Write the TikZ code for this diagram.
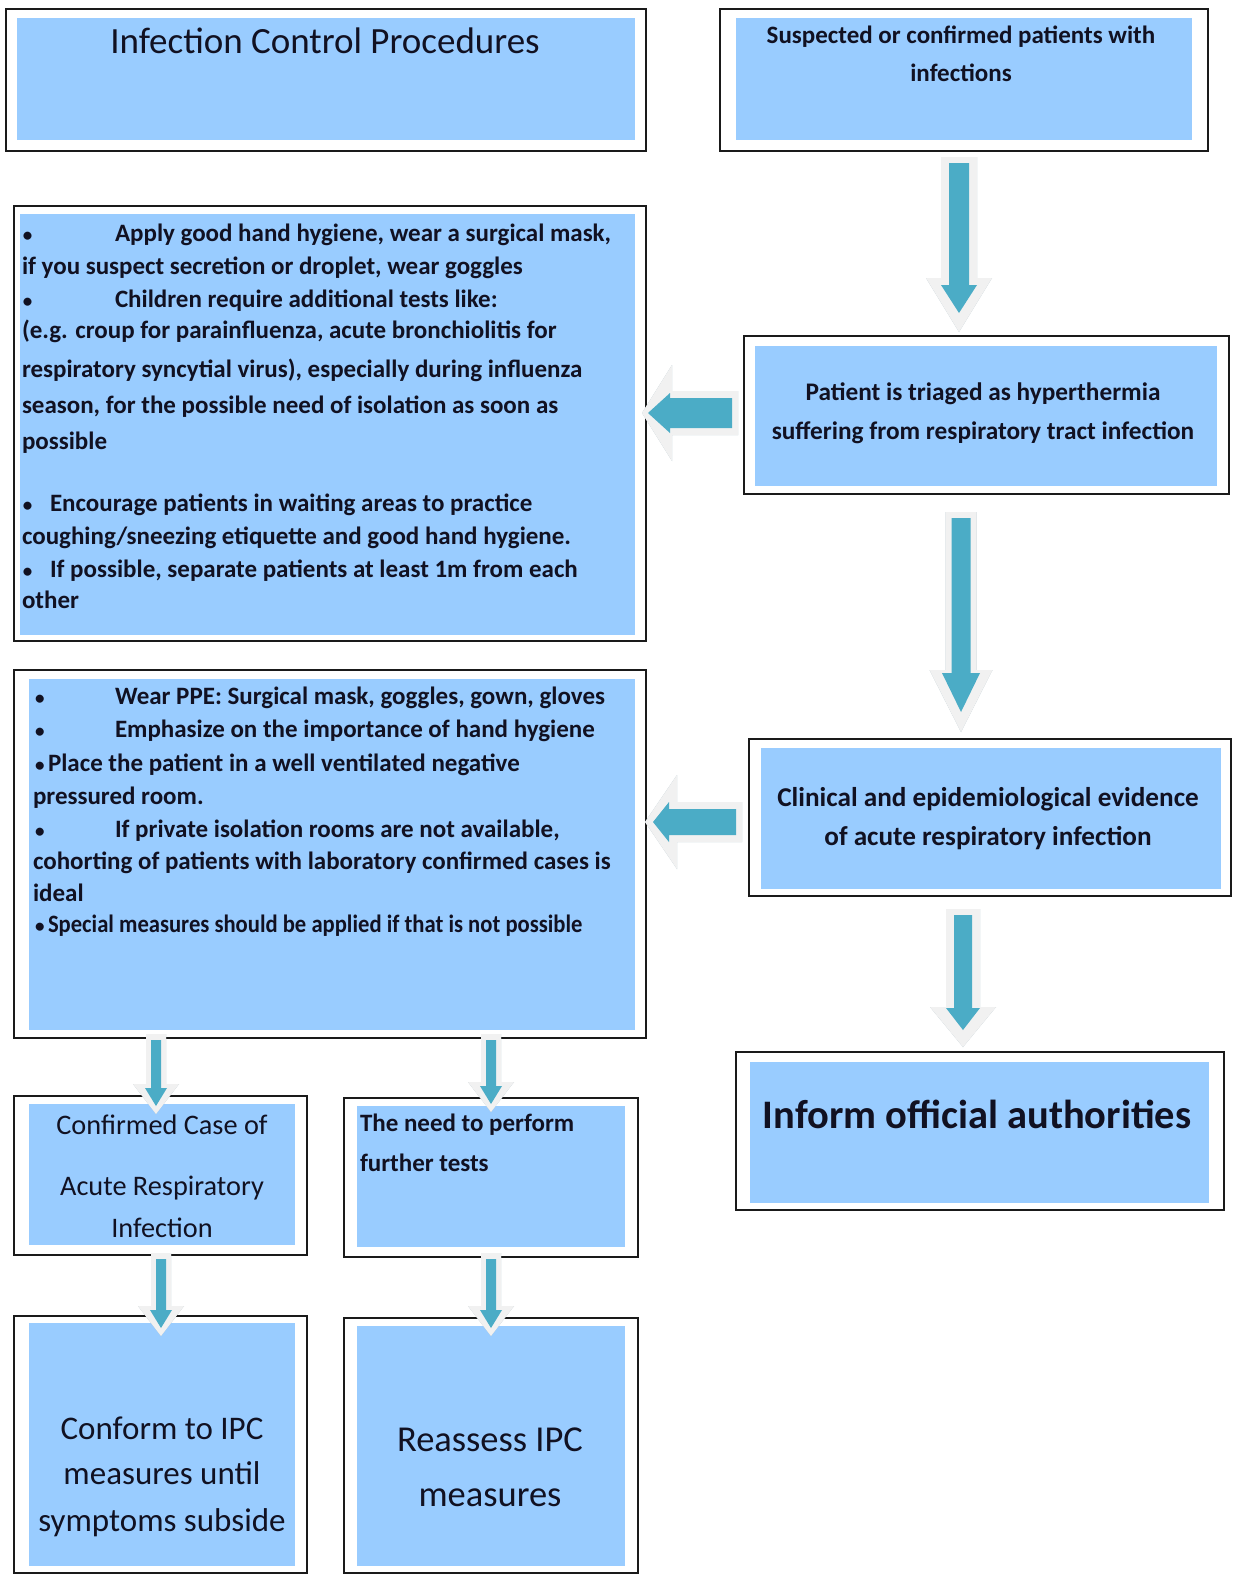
\documentclass[tikz,border=0pt]{standalone}
\usepackage{fontspec}
\setmainfont{Carlito}
\usepackage{graphicx}
\usetikzlibrary{calc}
\definecolor{boxblue}{HTML}{99CCFF}
\definecolor{tealarrow}{HTML}{4BACC6}
\definecolor{arrlight}{HTML}{F1F1F1}
\definecolor{arrshadow}{HTML}{AFC0C8}
\definecolor{framecol}{HTML}{1A1A1A}
\definecolor{txtcol}{HTML}{111122}

\newcommand\fsz[1]{\fontsize{#1}{#1}\selectfont}
\newcommand\smbul{{\fsz{19}•}}

\tikzset{
  frame/.style={draw=framecol, line width=2.2pt, fill=white, inner sep=0pt, outer sep=0pt, anchor=north west},
  fillbox/.style={fill=boxblue, inner sep=0pt, outer sep=0pt, anchor=north west},
  ltxt/.style={inner sep=0pt, outer sep=0pt, anchor=base west, text=txtcol, font=\bfseries\fsz{25}},
  ctxt/.style={inner sep=0pt, outer sep=0pt, anchor=base, text=txtcol},
}

% name, x1, y1, x2, y2, ix1, iy1, ix2, iy2
\newcommand\boxpair[9]{%
  \node[frame, minimum width={#4-#2}, minimum height={#5-#3}] (#1) at (#2,#3) {};
  \node[fillbox, minimum width={#8-#6}, minimum height={#9-#7}] (#1-in) at (#6,#7) {};
}

% down block arrow: 1 start, 2 tip, 3 w, 4 h, 5 L, 6 W, 7 H, 8 L2, 9 E
\newcommand\blkdown[9]{%
  \begin{scope}[xshift=1.5pt,yshift=-2pt]
  \fill[arrshadow] let \p1=(#1), \p2=(#2) in
    (\x1-#6pt,\y1+6pt) -- (\x1-#6pt,\y2-#9pt+#8pt) -- (\x1-#7pt,\y2-#9pt+#8pt) -- (\x1,\y2-#9pt)
    -- (\x1+#7pt,\y2-#9pt+#8pt) -- (\x1+#6pt,\y2-#9pt+#8pt) -- (\x1+#6pt,\y1+6pt) -- cycle;
  \end{scope}
  \fill[arrlight] let \p1=(#1), \p2=(#2) in
    (\x1-#6pt,\y1+6pt) -- (\x1-#6pt,\y2-#9pt+#8pt) -- (\x1-#7pt,\y2-#9pt+#8pt) -- (\x1,\y2-#9pt)
    -- (\x1+#7pt,\y2-#9pt+#8pt) -- (\x1+#6pt,\y2-#9pt+#8pt) -- (\x1+#6pt,\y1+6pt) -- cycle;
  \fill[tealarrow] let \p1=(#1), \p2=(#2) in
    (\x1-#3pt,\y1) -- (\x1-#3pt,\y2+#5pt) -- (\x1-#4pt,\y2+#5pt) -- (\x1,\y2)
    -- (\x1+#4pt,\y2+#5pt) -- (\x1+#3pt,\y2+#5pt) -- (\x1+#3pt,\y1) -- cycle;
}
% left block arrow
\newcommand\blkleft[9]{%
  \begin{scope}[xshift=1.5pt,yshift=-2pt]
  \fill[arrshadow] let \p1=(#1), \p2=(#2) in
    (\x1+6pt,\y1+#6pt) -- (\x2-#9pt+#8pt,\y1+#6pt) -- (\x2-#9pt+#8pt,\y1+#7pt) -- (\x2-#9pt,\y1)
    -- (\x2-#9pt+#8pt,\y1-#7pt) -- (\x2-#9pt+#8pt,\y1-#6pt) -- (\x1+6pt,\y1-#6pt) -- cycle;
  \end{scope}
  \fill[arrlight] let \p1=(#1), \p2=(#2) in
    (\x1+6pt,\y1+#6pt) -- (\x2-#9pt+#8pt,\y1+#6pt) -- (\x2-#9pt+#8pt,\y1+#7pt) -- (\x2-#9pt,\y1)
    -- (\x2-#9pt+#8pt,\y1-#7pt) -- (\x2-#9pt+#8pt,\y1-#6pt) -- (\x1+6pt,\y1-#6pt) -- cycle;
  \fill[tealarrow] let \p1=(#1), \p2=(#2) in
    (\x1,\y1+#3pt) -- (\x2+#5pt,\y1+#3pt) -- (\x2+#5pt,\y1+#4pt) -- (\x2,\y1)
    -- (\x2+#5pt,\y1-#4pt) -- (\x2+#5pt,\y1-#3pt) -- (\x1,\y1-#3pt) -- cycle;
}

\begin{document}
\begin{tikzpicture}[x=1pt,y=-1pt]
\useasboundingbox[fill=white] (0,0) rectangle (1233,1575);

% ---------- boxes ----------
\boxpair{title}{6}{9}{646}{151}{17}{18}{635}{140}
\boxpair{susp}{720}{9}{1208}{151}{736}{18}{1192}{140}
\boxpair{listA}{14}{206}{646}{641}{20}{214}{635}{635}
\boxpair{triage}{744}{336}{1229}{494}{755}{346}{1217}{486}
\boxpair{listB}{14}{670}{646}{1038}{29}{679}{635}{1030}
\boxpair{clin}{749}{739}{1231}{896}{761}{748}{1221}{889}
\boxpair{inform}{736}{1052}{1224}{1210}{750}{1062}{1209}{1203}
\boxpair{conf}{14}{1096}{307}{1255}{29}{1104}{295}{1245}
\boxpair{need}{344}{1098}{638}{1257}{357}{1106}{625}{1247}
\boxpair{conform}{14}{1316}{307}{1573}{29}{1323}{295}{1566}
\boxpair{reassess}{344}{1318}{638}{1573}{357}{1326}{625}{1566}

% ---------- texts ----------
\node[ctxt, font=\fsz{37}] (t-title) at (325,53) {Infection Control Procedures};

\node[ctxt, font=\bfseries\fsz{25}] (t-s1) at (961,43) {Suspected or confirmed patients with};
\node[ctxt, font=\bfseries\fsz{25}] (t-s2) at (961,81) {infections};

\node[ctxt, font=\bfseries\fsz{25.3}] (t-r1) at (983,400) {Patient is triaged as hyperthermia};
\node[ctxt, font=\bfseries\fsz{25.3}] (t-r2) at (983,439) {suffering from respiratory tract infection};

\node[ctxt, font=\bfseries\fsz{27.2}] (t-c1) at (988,806) {Clinical and epidemiological evidence};
\node[ctxt, font=\bfseries\fsz{27.2}] (t-c2) at (988,845) {of acute respiratory infection};

\node[ctxt, font=\bfseries\fsz{40.5}] (t-inf) at (977,1128) {Inform official authorities};

\node[ctxt, font=\fsz{28.3}] (t-cf1) at (162,1134) {Confirmed Case of};
\node[ctxt, font=\fsz{28.3}] (t-cf2) at (162,1195) {Acute Respiratory};
\node[ctxt, font=\fsz{28.3}] (t-cf3) at (162,1237) {Infection};

\node[ltxt] (t-n1) at (360,1131) {The need to perform};
\node[ltxt] (t-n2) at (360,1171) {further tests};

\node[ctxt, font=\fsz{33}] (t-co1) at (162,1439) {Conform to IPC};
\node[ctxt, font=\fsz{33}] (t-co2) at (162,1484) {measures until};
\node[ctxt, font=\fsz{33}] (t-co3) at (162,1531) {symptoms subside};

\node[ctxt, font=\fsz{36.5}] (t-re1) at (490,1451) {Reassess IPC};
\node[ctxt, font=\fsz{36.5}] (t-re2) at (490,1506) {measures};

% list A
\node[ltxt] (a-b1) at (23,241) {\smbul};
\node[ltxt] (a-l1) at (115,241) {Apply good hand hygiene, wear a surgical mask,};
\node[ltxt] (a-l2) at (22,274) {if you suspect secretion or droplet, wear goggles};
\node[ltxt] (a-b2) at (23,307) {\smbul};
\node[ltxt] (a-l3) at (115,307) {Children require additional tests like:};
\node[ltxt] (a-l4) at (22,338) {(e.g. croup for parainfluenza, acute bronchiolitis for};
\node[ltxt] (a-l5) at (22,377) {respiratory syncytial virus), especially during influenza};
\node[ltxt] (a-l6) at (22,413) {season, for the possible need of isolation as soon as};
\node[ltxt] (a-l7) at (22,449) {possible};
\node[ltxt] (a-b3) at (23,511) {\smbul};
\node[ltxt] (a-l8) at (50,511) {Encourage patients in waiting areas to practice};
\node[ltxt] (a-l9) at (22,544) {coughing/sneezing etiquette and good hand hygiene.};
\node[ltxt] (a-b4) at (23,577) {\smbul};
\node[ltxt] (a-l10) at (50,577) {If possible, separate patients at least 1m from each};
\node[ltxt] (a-l11) at (22,608) {other};

% list B
\node[ltxt] (b-b1) at (35,704) {\smbul};
\node[ltxt] (b-l1) at (115,704) {Wear PPE: Surgical mask, goggles, gown, gloves};
\node[ltxt] (b-b2) at (35,737) {\smbul};
\node[ltxt] (b-l2) at (115,737) {Emphasize on the importance of hand hygiene};
\node[ltxt] (b-b5) at (35,771) {\smbul};
\node[ltxt] (b-l3) at (48,771) {Place the patient in a well ventilated negative};
\node[ltxt] (b-l4) at (33,804) {pressured room.};
\node[ltxt] (b-b3) at (35,837) {\smbul};
\node[ltxt] (b-l5) at (115,837) {If private isolation rooms are not available,};
\node[ltxt] (b-l6) at (33,869) {cohorting of patients with laboratory confirmed cases is};
\node[ltxt] (b-l7) at (33,901) {ideal};
\node[ltxt] (b-b6) at (35,932) {\smbul};
\node[ltxt] (b-l8) at (48,932) {\scalebox{0.905}[1]{Special measures should be applied if that is not possible}};

% ---------- arrows ----------
\coordinate (aA1) at (959,163);  \coordinate (aA2) at (959,313);
\coordinate (aB1) at (961,518);  \coordinate (aB2) at (961,712);
\coordinate (aC1) at (963,915);  \coordinate (aC2) at (963,1030);
\coordinate (aD1) at (732,413);  \coordinate (aD2) at (648,413);
\coordinate (aE1) at (736,822);  \coordinate (aE2) at (653,822);
\coordinate (aF1) at (156,1040); \coordinate (aF2) at (156,1106);
\coordinate (aG1) at (491,1040); \coordinate (aG2) at (491,1104);
\coordinate (aH1) at (161,1259); \coordinate (aH2) at (161,1328);
\coordinate (aI1) at (491,1259); \coordinate (aI2) at (491,1328);

\blkdown{aA1}{aA2}{10}{18}{28}{18}{33}{54}{19}
\blkdown{aB1}{aB2}{9.5}{19}{39}{15.5}{31.5}{62}{20}
\blkdown{aC1}{aC2}{9}{17}{22}{17}{33}{40}{17}
\blkleft{aD1}{aD2}{15}{20}{22}{22}{48}{30}{6}
\blkleft{aE1}{aE2}{13}{20}{16}{20}{47}{32}{8}
\blkdown{aF1}{aF2}{5}{11}{18}{10}{23}{30}{8}
\blkdown{aG1}{aG2}{5}{11}{18}{10}{23}{30}{8}
\blkdown{aH1}{aH2}{5}{11}{18}{10}{23}{30}{8}
\blkdown{aI1}{aI2}{5}{11}{18}{10}{23}{30}{8}
\end{tikzpicture}
\end{document}
